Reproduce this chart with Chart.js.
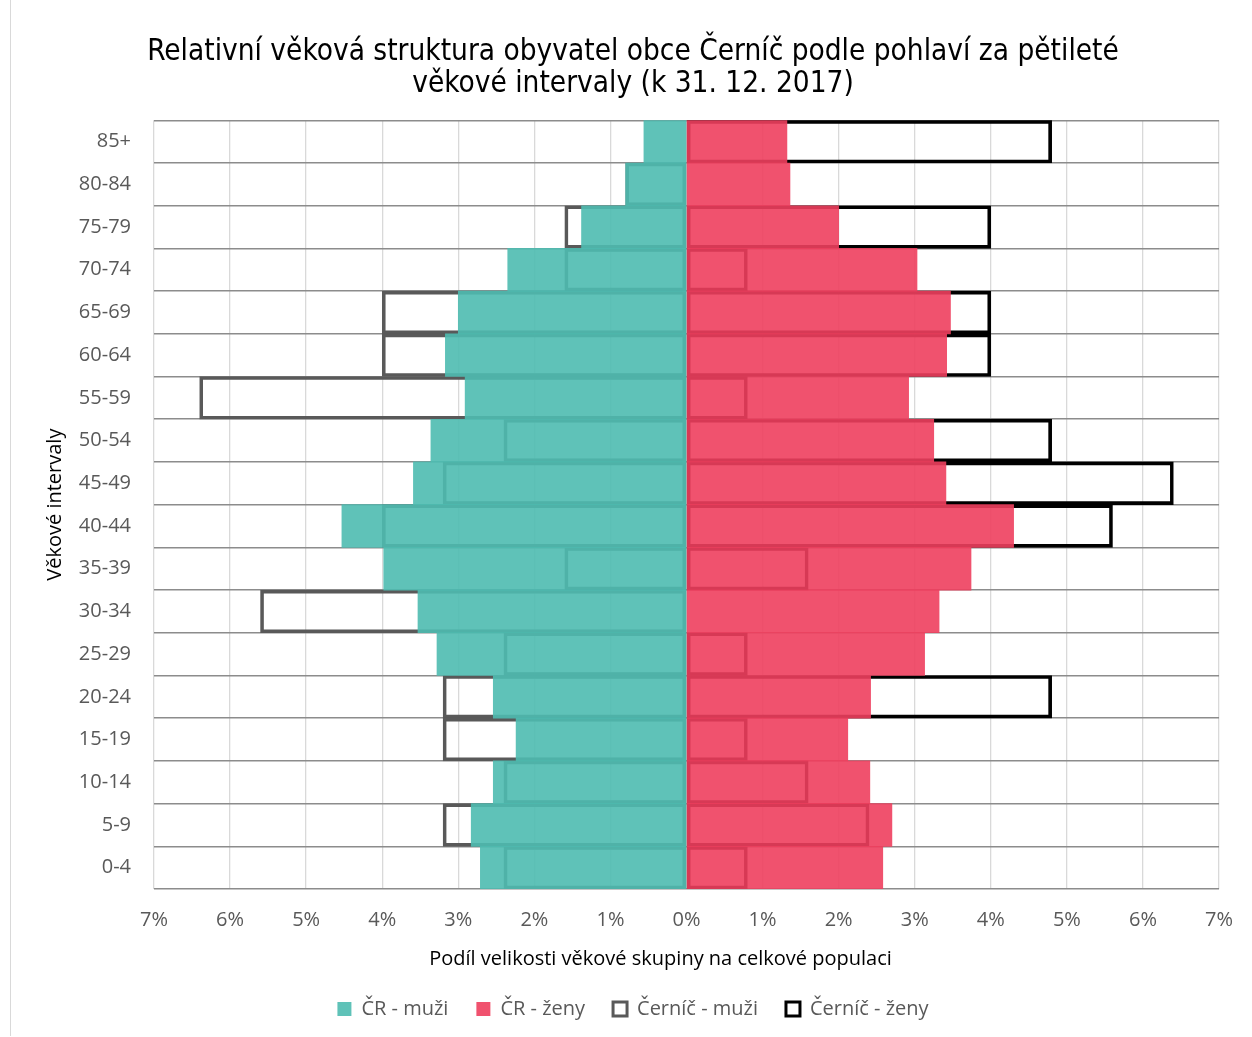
<!DOCTYPE html>
<html lang="cs">
<head>
<meta charset="utf-8">
<title>Věková struktura obce Černíč</title>
<script src="https://cdn.jsdelivr.net/npm/chart.js@4.4.1/dist/chart.umd.min.js"></script>
<style>
  html, body { margin: 0; padding: 0; background: #fff; }
  #wrap { position: relative; width: 1252px; height: 1037px; }
  #wrap::before { content: ""; position: absolute; left: 10px; top: 0; bottom: 1px; border-left: 1px solid #d9d9d9; }
</style>
</head>
<body>
<div id="wrap">
  <canvas id="pyramida" width="1252" height="1037"></canvas>
</div>
<script>
// věkové skupiny (odshora dolů)
const vekoveSkupiny = ["85+", "80-84", "75-79", "70-74", "65-69", "60-64", "55-59", "50-54", "45-49",
  "40-44", "35-39", "30-34", "25-29", "20-24", "15-19", "10-14", "5-9", "0-4"];

// podíly v % (muži kladně, při kreslení se otočí doleva)
const crMuzi = [0.56, 0.80, 1.38, 2.35, 3.00, 3.17, 2.91, 3.36, 3.59, 4.53, 3.98, 3.53, 3.28, 2.54, 2.24, 2.54, 2.83, 2.71];
const crZeny = [1.32, 1.36, 2.00, 3.03, 3.47, 3.42, 2.92, 3.25, 3.41, 4.30, 3.74, 3.32, 3.13, 2.42, 2.12, 2.41, 2.70, 2.58];
const cernicMuzi = [0, 0.8, 1.6, 1.6, 4.0, 4.0, 6.4, 2.4, 3.2, 4.0, 1.6, 5.6, 2.4, 3.2, 3.2, 2.4, 3.2, 2.4];
const cernicZeny = [4.8, 0, 4.0, 0.8, 4.0, 4.0, 0.8, 4.8, 6.4, 5.6, 1.6, 0, 0.8, 4.8, 0.8, 1.6, 2.4, 0.8];

// rozsah osy x
const osaXMin = -7;
const osaXMax = 7;

const pismo = "'Open Sans', sans-serif";
const sedaText = "#595959";

var pyramidaConfig = {
  type: "bar",
  data: {
    labels: vekoveSkupiny,
    datasets: [
      {
        label: "ČR - muži",
        data: crMuzi.map((v) => -v),
        backgroundColor: "rgba(78,187,176,0.9)",
        borderWidth: 0,
        grouped: false,
      },
      {
        label: "ČR - ženy",
        data: crZeny,
        backgroundColor: "rgba(238,63,94,0.9)",
        borderWidth: 0,
        grouped: false,
      },
      {
        label: "Černíč - muži",
        data: cernicMuzi.map((v) => -v),
        backgroundColor: "rgba(255,255,255,0)",
        borderColor: "#595959",
        borderWidth: 3,
        borderSkipped: false,
        grouped: false,
      },
      {
        label: "Černíč - ženy",
        data: cernicZeny,
        backgroundColor: "rgba(255,255,255,0)",
        borderColor: "#000000",
        borderWidth: 3,
        borderSkipped: false,
        grouped: false,
      },
    ],
  },
  options: {
    indexAxis: "y",
    responsive: false,
    animation: false,
    categoryPercentage: 1.0,
    barPercentage: 1.0,
    layout: {
      padding: { top: 36, left: 36, right: 22, bottom: 8 },
    },
    plugins: {
      title: {
        display: true,
        text: [
          "Relativní věková struktura obyvatel obce Černíč podle pohlaví za pětileté",
          "věkové intervaly (k 31. 12. 2017)",
        ],
        color: "#000",
        font: { family: "'DejaVu Sans Condensed', 'DejaVu Sans', sans-serif", size: 29.5, weight: "normal", lineHeight: 1.09 },
        padding: { top: 0, bottom: 20 },
      },
      legend: {
        position: "bottom",
        labels: {
          color: sedaText,
          font: { family: pismo, size: 20 },
          boxWidth: 14,
          boxHeight: 14,
          padding: 28,
        },
      },
      tooltip: {
        callbacks: {
          label: function (context) {
            // záporné hodnoty mužů zobrazit kladně
            return context.dataset.label + ": " + Math.abs(context.raw) + " %";
          },
        },
      },
    },
    scales: {
      x: {
        min: osaXMin,
        max: osaXMax,
        ticks: {
          stepSize: 1,
          padding: 19,
          color: sedaText,
          font: { family: pismo, size: 20 },
          callback: function (value) {
            return Math.abs(value) + "%";
          },
        },
        grid: {
          drawTicks: false,
          color: function (ctx) {
            return ctx.tick && ctx.tick.value === 0 ? "#bfbfbf" : "#d9d9d9";
          },
          lineWidth: 1.3,
        },
        border: { display: false },
        title: {
          display: true,
          // mezery na konci posunou popisek trochu doleva jako v předloze
          text: "Podíl velikosti věkové skupiny na celkové populaci" + "\u00a0".repeat(10),
          color: "#000",
          font: { family: pismo, size: 20 },
          padding: { top: 0, bottom: 0 },
        },
        afterFit: function (scale) {
          scale.height = 82;
        },
      },
      y: {
        ticks: {
          padding: 23,
          color: sedaText,
          font: { family: pismo, size: 20 },
        },
        grid: {
          drawTicks: false,
          color: "#8c8c8c",
          lineWidth: 1.5,
        },
        border: { display: false },
        title: {
          display: true,
          text: "Věkové intervaly",
          color: "#000",
          font: { family: pismo, size: 20 },
          padding: { top: 7, bottom: 0 },
        },
        afterFit: function (scale) {
          scale.width = 118;
        },
      },
    },
  },
};

// vykreslení grafu
const platno = document.getElementById("pyramida");
const pyramida = new Chart(platno, pyramidaConfig);
</script>
</body>
</html>
